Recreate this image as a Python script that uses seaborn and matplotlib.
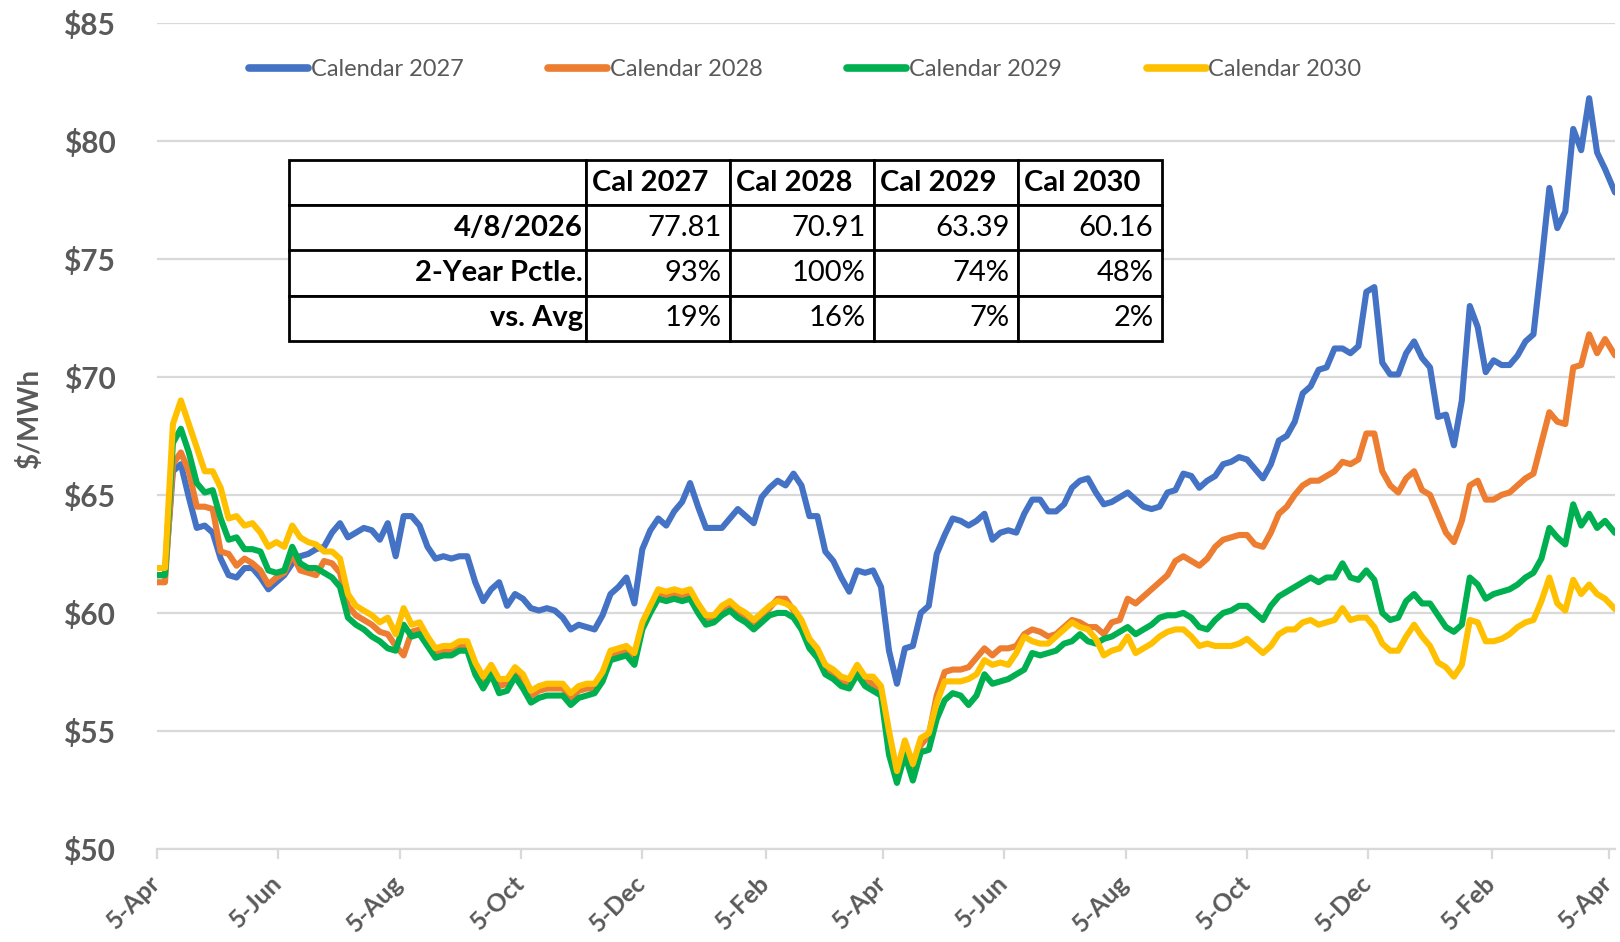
import numpy as np
import pandas as pd
import matplotlib
matplotlib.use("Agg")
import matplotlib.pyplot as plt
import seaborn as sns
from matplotlib.lines import Line2D

sns.set_theme(style="white")
plt.rcParams["font.family"] = ["Lato", "DejaVu Sans"]

# ---------------- data ----------------
dates = list(pd.date_range("2024-04-05", periods=183, freq="4D")) + [pd.Timestamp("2026-04-08")]

cal2027 = [
    61.6, 61.6, 66.0, 66.3, 64.9, 63.6, 63.7, 63.4, 62.3, 61.6,
    61.5, 61.9, 61.9, 61.5, 61.0, 61.3, 61.6, 62.1, 62.4, 62.5,
    62.7, 62.8, 63.4, 63.8, 63.2, 63.4, 63.6, 63.5, 63.1, 63.8,
    62.4, 64.1, 64.1, 63.7, 62.8, 62.3, 62.4, 62.3, 62.4, 62.4,
    61.3, 60.5, 61.0, 61.3, 60.3, 60.8, 60.6, 60.2, 60.1, 60.2,
    60.1, 59.8, 59.3, 59.5, 59.4, 59.3, 59.9, 60.8, 61.1, 61.5,
    60.4, 62.7, 63.5, 64.0, 63.7, 64.3, 64.7, 65.5, 64.5, 63.6,
    63.6, 63.6, 64.0, 64.4, 64.1, 63.8, 64.9, 65.3, 65.6, 65.4,
    65.9, 65.4, 64.1, 64.1, 62.6, 62.2, 61.5, 60.9, 61.8, 61.7,
    61.8, 61.1, 58.4, 57.0, 58.5, 58.6, 60.0, 60.3, 62.5, 63.3,
    64.0, 63.9, 63.7, 63.9, 64.2, 63.1, 63.4, 63.5, 63.4, 64.2,
    64.8, 64.8, 64.3, 64.3, 64.6, 65.3, 65.6, 65.7, 65.1, 64.6,
    64.7, 64.9, 65.1, 64.8, 64.5, 64.4, 64.5, 65.1, 65.2, 65.9,
    65.8, 65.3, 65.6, 65.8, 66.3, 66.4, 66.6, 66.5, 66.1, 65.7,
    66.3, 67.3, 67.5, 68.1, 69.3, 69.6, 70.3, 70.4, 71.2, 71.2,
    71.0, 71.3, 73.6, 73.8, 70.6, 70.1, 70.1, 71.0, 71.5, 70.8,
    70.4, 68.3, 68.4, 67.1, 69.0, 73.0, 72.1, 70.2, 70.7, 70.5,
    70.5, 70.9, 71.5, 71.8, 74.8, 78.0, 76.3, 77.0, 80.5, 79.6,
    81.8, 79.5, 78.8, 77.81,
]

cal2028 = [
    61.3, 61.3, 66.3, 66.8, 66.0, 64.5, 64.5, 64.4, 62.6, 62.5,
    62.0, 62.3, 62.1, 61.8, 61.2, 61.5, 61.7, 62.5, 61.8, 61.7,
    61.6, 62.2, 62.1, 61.7, 60.3, 59.9, 59.7, 59.5, 59.2, 59.1,
    58.6, 58.2, 59.2, 59.3, 58.8, 58.3, 58.4, 58.4, 58.6, 58.6,
    57.6, 57.1, 57.6, 56.9, 57.0, 57.5, 57.1, 56.5, 56.7, 56.8,
    56.8, 56.8, 56.4, 56.7, 56.8, 56.8, 57.3, 58.2, 58.3, 58.4,
    58.0, 59.5, 60.2, 60.8, 60.7, 60.8, 60.7, 60.8, 60.2, 59.7,
    59.8, 60.1, 60.3, 60.0, 59.8, 59.5, 59.8, 60.2, 60.6, 60.6,
    60.1, 59.5, 58.7, 58.3, 57.6, 57.4, 57.1, 57.0, 57.6, 57.1,
    57.0, 56.7, 54.5, 53.0, 54.3, 53.2, 54.4, 54.8, 56.5, 57.5,
    57.6, 57.6, 57.7, 58.1, 58.5, 58.2, 58.5, 58.5, 58.6, 59.1,
    59.3, 59.2, 59.0, 59.1, 59.4, 59.7, 59.6, 59.4, 59.4, 59.1,
    59.6, 59.7, 60.6, 60.4, 60.7, 61.0, 61.3, 61.6, 62.2, 62.4,
    62.2, 62.0, 62.3, 62.8, 63.1, 63.2, 63.3, 63.3, 62.9, 62.8,
    63.4, 64.2, 64.5, 65.0, 65.4, 65.6, 65.6, 65.8, 66.0, 66.4,
    66.3, 66.5, 67.6, 67.6, 66.0, 65.4, 65.1, 65.7, 66.0, 65.2,
    65.0, 64.2, 63.4, 63.0, 63.9, 65.4, 65.6, 64.8, 64.8, 65.0,
    65.1, 65.4, 65.7, 65.9, 67.2, 68.5, 68.1, 68.0, 70.4, 70.5,
    71.8, 71.0, 71.6, 70.91,
]

cal2029 = [
    61.6, 61.6, 67.2, 67.8, 66.8, 65.5, 65.1, 65.2, 64.0, 63.1,
    63.2, 62.7, 62.7, 62.6, 61.8, 61.7, 61.8, 62.8, 62.1, 61.9,
    61.9, 61.7, 61.5, 61.1, 59.8, 59.5, 59.3, 59.0, 58.8, 58.5,
    58.4, 59.5, 59.0, 59.1, 58.6, 58.1, 58.2, 58.2, 58.4, 58.4,
    57.4, 56.8, 57.4, 56.6, 56.7, 57.3, 56.8, 56.2, 56.4, 56.5,
    56.5, 56.5, 56.1, 56.4, 56.5, 56.6, 57.1, 58.0, 58.1, 58.2,
    57.8, 59.3, 60.0, 60.6, 60.5, 60.6, 60.5, 60.6, 60.0, 59.5,
    59.6, 59.9, 60.1, 59.8, 59.6, 59.3, 59.6, 59.9, 60.0, 60.0,
    59.8, 59.3, 58.5, 58.1, 57.4, 57.2, 56.9, 56.8, 57.4, 56.9,
    56.7, 56.5, 54.0, 52.8, 54.0, 52.9, 54.1, 54.2, 55.5, 56.3,
    56.6, 56.5, 56.1, 56.5, 57.4, 57.0, 57.1, 57.2, 57.4, 57.6,
    58.3, 58.2, 58.3, 58.4, 58.7, 58.8, 59.1, 58.8, 58.7, 58.9,
    59.0, 59.2, 59.4, 59.1, 59.3, 59.5, 59.8, 59.9, 59.9, 60.0,
    59.8, 59.4, 59.3, 59.7, 60.0, 60.1, 60.3, 60.3, 60.0, 59.7,
    60.3, 60.7, 60.9, 61.1, 61.3, 61.5, 61.3, 61.5, 61.5, 62.1,
    61.5, 61.4, 61.8, 61.4, 60.0, 59.7, 59.8, 60.5, 60.8, 60.4,
    60.4, 59.9, 59.4, 59.2, 59.5, 61.5, 61.2, 60.6, 60.8, 60.9,
    61.0, 61.2, 61.5, 61.7, 62.3, 63.6, 63.2, 62.9, 64.6, 63.7,
    64.2, 63.6, 63.9, 63.39,
]

cal2030 = [
    61.9, 61.9, 68.0, 69.0, 68.0, 67.0, 66.0, 66.0, 65.3, 64.0,
    64.1, 63.7, 63.8, 63.4, 62.8, 63.0, 62.8, 63.7, 63.2, 63.0,
    62.9, 62.6, 62.6, 62.3, 60.8, 60.3, 60.1, 59.9, 59.6, 59.8,
    59.1, 60.2, 59.5, 59.6, 59.0, 58.5, 58.6, 58.6, 58.8, 58.8,
    57.9, 57.3, 57.8, 57.2, 57.2, 57.7, 57.4, 56.7, 56.9, 57.0,
    57.0, 57.0, 56.6, 56.9, 57.0, 57.0, 57.5, 58.4, 58.5, 58.6,
    58.3, 59.6, 60.3, 61.0, 60.9, 61.0, 60.9, 61.0, 60.4, 59.9,
    59.9, 60.3, 60.5, 60.2, 60.0, 59.7, 60.0, 60.3, 60.5, 60.4,
    60.2, 59.7, 58.9, 58.5, 57.8, 57.6, 57.3, 57.2, 57.8, 57.3,
    57.3, 56.9, 55.0, 53.3, 54.6, 53.6, 54.7, 54.9, 56.2, 57.1,
    57.1, 57.1, 57.2, 57.4, 58.0, 57.8, 57.9, 57.8, 58.3, 59.0,
    58.8, 58.7, 58.7, 59.0, 59.3, 59.6, 59.4, 59.3, 58.9, 58.2,
    58.4, 58.5, 59.0, 58.3, 58.5, 58.7, 59.0, 59.2, 59.3, 59.3,
    59.0, 58.6, 58.7, 58.6, 58.6, 58.6, 58.7, 58.9, 58.6, 58.3,
    58.6, 59.1, 59.3, 59.3, 59.6, 59.7, 59.5, 59.6, 59.7, 60.2,
    59.7, 59.8, 59.8, 59.4, 58.7, 58.4, 58.4, 59.0, 59.5, 59.0,
    58.6, 57.9, 57.7, 57.3, 57.8, 59.7, 59.6, 58.8, 58.8, 58.9,
    59.1, 59.4, 59.6, 59.7, 60.5, 61.5, 60.4, 60.1, 61.4, 60.8,
    61.2, 60.8, 60.6, 60.16,
]

series_names = ["Calendar 2027", "Calendar 2028", "Calendar 2029", "Calendar 2030"]
series_colors = ["#4472C4", "#ED7D31", "#00B050", "#FFC000"]

tick_dates = pd.date_range("2024-04-05", "2026-04-05", freq=pd.DateOffset(months=2))
y_ticks = [50, 55, 60, 65, 70, 75, 80, 85]

table_cols = ["Cal 2027", "Cal 2028", "Cal 2029", "Cal 2030"]
table_rows = ["4/8/2026", "2-Year Pctle.", "vs. Avg"]
last_price = ["77.81", "70.91", "63.39", "60.16"]
pctile_2yr = ["93%", "100%", "74%", "48%"]
vs_avg = ["19%", "16%", "7%", "2%"]

# ---------------- plot ----------------
df = pd.DataFrame({
    "date": dates * 4,
    "price": cal2027 + cal2028 + cal2029 + cal2030,
    "series": np.repeat(series_names, len(dates)),
})

fig = plt.figure(figsize=(16.2, 9.42), dpi=100)
ax = fig.add_axes([157 / 1620, 1 - 849 / 942, (1615 - 157) / 1620, (849 - 22.7) / 942])

sns.lineplot(data=df, x="date", y="price", hue="series",
             palette=dict(zip(series_names, series_colors)),
             hue_order=series_names, linewidth=4.4, legend=False,
             estimator=None, sort=False, ax=ax, solid_joinstyle="round")

ax.set_xlim(pd.Timestamp("2024-04-05"), pd.Timestamp("2026-04-08"))
ax.set_ylim(50, 85)

ax.yaxis.grid(True, color="#d9d9d9", linewidth=1.6)
ax.xaxis.grid(False)
ax.set_axisbelow(True)
for s in ["left", "right", "top"]:
    ax.spines[s].set_visible(False)
ax.spines["bottom"].set_color("#d9d9d9")
ax.spines["bottom"].set_linewidth(1.6)

gray = "#595959"
ax.set_yticks(y_ticks)
ax.set_yticklabels([f"${v}" for v in y_ticks], fontsize=21.5, fontweight="bold", color=gray)
ax.tick_params(axis="y", length=0, pad=30)

ax.set_xticks(tick_dates)
ax.set_xticklabels([f"{d.day}-{d.strftime('%b')}" for d in tick_dates],
                   rotation=45, ha="right", va="center", rotation_mode="anchor",
                   fontsize=18, fontweight="bold", color=gray)
ax.tick_params(axis="x", bottom=True, length=7, width=1.6, color="#d9d9d9", pad=15)

ax.set_xlabel("")
ax.set_ylabel("$/MWh", fontsize=20, fontweight="bold", color=gray)
ax.yaxis.set_label_coords(-(157 - 43) / 1458, 0.52)

handles = [Line2D([0], [0], color=c, lw=5.5, solid_capstyle="round") for c in series_colors]
fig.legend(handles, series_names, loc="center", bbox_to_anchor=(0.497, 1 - 70 / 942),
           ncol=4, frameon=False, fontsize=17, handlelength=2.5, handletextpad=0.1,
           columnspacing=3.6, labelcolor=gray)

cell_text = [[""] + table_cols,
             [table_rows[0]] + last_price,
             [table_rows[1]] + pctile_2yr,
             [table_rows[2]] + vs_avg]
tbl = ax.table(cellText=cell_text, cellLoc="right",
               colWidths=[0.341, 0.165, 0.165, 0.165, 0.165],
               bbox=[(289 - 157) / 1458, (849 - 341) / 826.3,
                     (1162 - 289) / 1458, (341 - 160) / 826.3])
tbl.auto_set_font_size(False)
tbl.set_fontsize(21)
tbl.set_zorder(5)
for (r, c), cell in tbl.get_celld().items():
    cell.set_edgecolor("black")
    cell.set_linewidth(2)
    cell.set_facecolor("white")
    cell.PAD = 0.06
    cell.get_text().set_color("black")
    if r == 0:
        cell.set_text_props(ha="left", fontweight="bold")
        cell.PAD = 0.04
    if c == 0:
        cell.set_text_props(fontweight="bold")
        cell.PAD = 0.012

fig.savefig("out.png", dpi=100, facecolor="white")
